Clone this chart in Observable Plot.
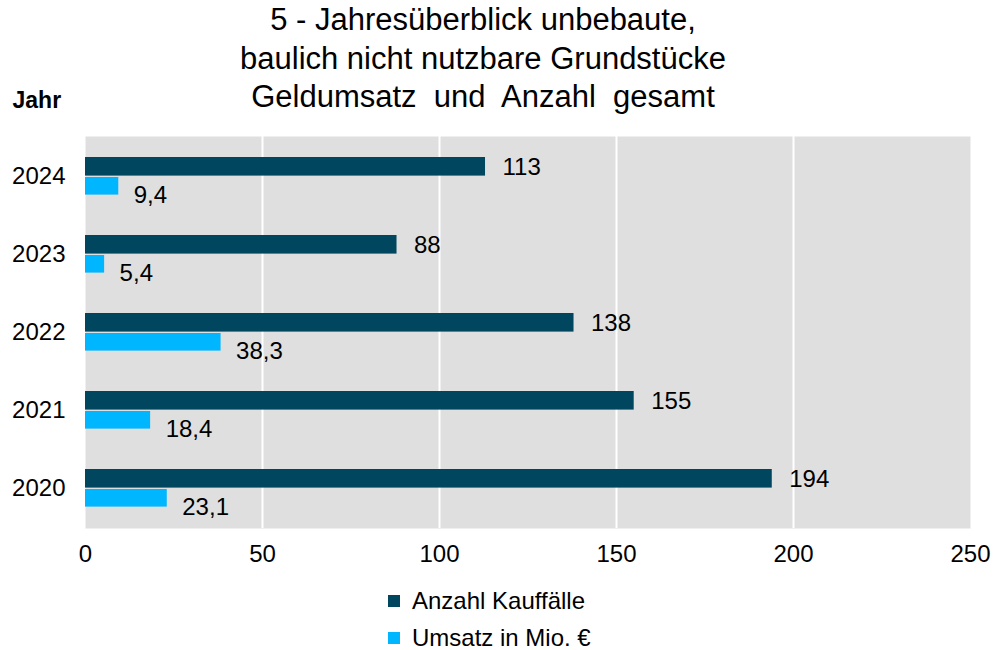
<!DOCTYPE html>
<html>
<head>
<meta charset="utf-8">
<script src="https://cdn.jsdelivr.net/npm/d3@7"></script>
<script src="https://cdn.jsdelivr.net/npm/@observablehq/plot@0.6"></script>
<style>
  body { margin: 0; background: #fff; font-family: "Liberation Sans", Arial, sans-serif; }
  #wrap { position: relative; width: 997px; height: 650px; overflow: hidden; }
  #title { position: absolute; top: 1px; left: 0; width: 966px; text-align: center; font-size: 31px; line-height: 38.5px; color: #000; white-space: pre; }
  #chart { position: absolute; top: 0; left: 0; }
  #legend { position: absolute; top: 582px; left: 388px; font-size: 24px; color: #000; }
  .item { display: flex; align-items: center; height: 37px; }
  .item span { line-height: 24px; }
  .sw { width: 12px; height: 12px; margin-right: 12px; }
</style>
</head>
<body>
<div id="wrap">
  <div id="chart"></div>
  <div id="title"></div>
  <div id="legend"></div>
</div>
<script>
const titleLines = ["5 - Jahresüberblick unbebaute,", "baulich nicht nutzbare Grundstücke", "Geldumsatz  und  Anzahl  gesamt"];
const years = ["2024", "2023", "2022", "2021", "2020"];
const anzahl = [113, 88, 138, 155, 194];
const umsatz = [9.4, 5.4, 38.3, 18.4, 23.1];
const seriesNames = ["Anzahl Kauffälle", "Umsatz in Mio. €"];
const seriesColors = ["#00465f", "#00b6ff"];
const xTicks = [0, 50, 100, 150, 200, 250];
const yLabel = "Jahr";

const fmt = v => String(v).replace(".", ",");
const dataA = years.map((y, i) => ({year: y, value: anzahl[i]}));
const dataU = years.map((y, i) => ({year: y, value: umsatz[i]}));

document.getElementById("title").textContent = titleLines.join("\n");

const plot = Plot.plot({
  width: 997,
  height: 580,
  marginTop: 136,
  marginBottom: 52,
  marginLeft: 85,
  marginRight: 27,
  style: {fontFamily: "'Liberation Sans', Arial, sans-serif", fontSize: "24px", color: "#000", background: "transparent"},
  x: {domain: [0, 250], ticks: xTicks, tickSize: 0, tickPadding: 16, label: null},
  y: {domain: years, padding: 0, tickSize: 0, tickPadding: 20, label: null},
  marks: [
    Plot.frame({fill: "#dfdfdf", stroke: null}),
    Plot.gridX(xTicks.filter(t => t > 0 && t < 250), {stroke: "#fff", strokeOpacity: 1, strokeWidth: 2}),
    Plot.barX(dataA, {y: "year", x: "value", fill: seriesColors[0], insetTop: 20, insetBottom: 39.4}),
    Plot.barX(dataU, {y: "year", x: "value", fill: seriesColors[1], insetTop: 40, insetBottom: 20.4}),
    Plot.text(dataA, {y: "year", x: "value", text: d => fmt(d.value), textAnchor: "start", dx: 17, dy: -9, fontSize: 24, fill: "#000"}),
    Plot.text(dataU, {y: "year", x: "value", text: d => fmt(d.value), textAnchor: "start", dx: 15, dy: 19, fontSize: 24, fill: "#000"}),
    Plot.text([yLabel], {frameAnchor: "top-left", lineAnchor: "middle", dx: -73, dy: -36, textAnchor: "start", fontWeight: "bold", fontSize: 23, fill: "#000"})
  ]
});
document.getElementById("chart").appendChild(plot);

const legend = document.getElementById("legend");
seriesNames.forEach((name, i) => {
  const item = document.createElement("div");
  item.className = "item";
  const sw = document.createElement("div");
  sw.className = "sw";
  sw.style.background = seriesColors[i];
  const lab = document.createElement("span");
  lab.textContent = name;
  item.appendChild(sw);
  item.appendChild(lab);
  legend.appendChild(item);
});
</script>
</body>
</html>
